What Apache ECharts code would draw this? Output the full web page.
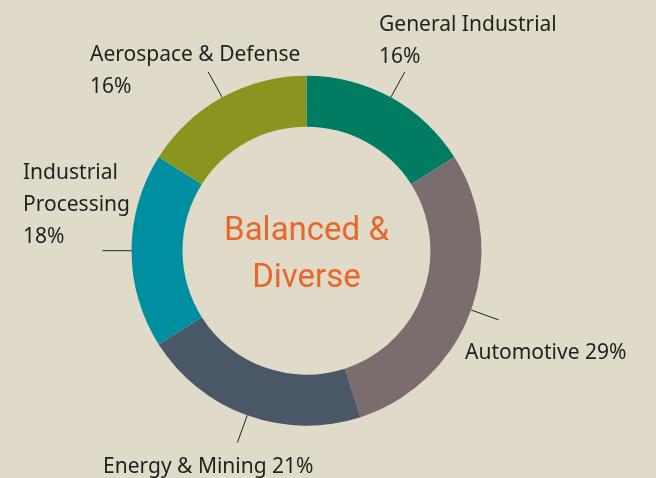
<!DOCTYPE html>
<html>
<head>
<meta charset="utf-8">
<script src="https://cdn.jsdelivr.net/npm/echarts@6/dist/echarts.min.js"></script>
<style>
html,body{margin:0;padding:0;background:#e0dbc9;}
#chart{width:656px;height:478px;}
</style>
</head>
<body>
<div id="chart"></div>
<script>
const categories = ['General Industrial', 'Automotive', 'Energy & Mining', 'Industrial Processing', 'Aerospace & Defense'];
const values = [16, 29, 21, 18, 16];
const labelTexts = ['General Industrial\n16%', 'Automotive 29%', 'Energy & Mining 21%', 'Industrial\nProcessing\n18%', 'Aerospace & Defense\n16%'];
const colors = ['#007c63', '#7a6d6d', '#495766', '#008fa0', '#8a9520'];
const centerText = 'Balanced &\nDiverse';

// label placement (left x, top y) for each slice label
const labelPos = [[379, 9], [465, 337], [103, 451], [23, 157], [90, 39]];

const CENTER = [306.5, 250.7];
const RADIUS = [124, 175];

const chart = echarts.init(document.getElementById('chart'), null, {renderer: 'canvas'});

const data = categories.map((c, i) => ({
  name: c, value: values[i], itemStyle: {color: colors[i]}
}));

chart.setOption({
  backgroundColor: '#e0dbc9',
  animation: false,
  title: {
    text: centerText,
    left: CENTER[0],
    top: 208,
    textAlign: 'center',
    padding: 0,
    textStyle: {
      fontFamily: 'Roboto',
      fontWeight: 'normal',
      fontSize: 33,
      lineHeight: 47,
      color: '#e8672a'
    }
  },
  series: [
    {
      type: 'pie',
      center: CENTER,
      radius: RADIUS,
      startAngle: 90,
      clockwise: true,
      avoidLabelOverlap: false,
      silent: true,
      data: data,
      label: {show: true, position: 'outside', formatter: ' ', color: 'rgba(0,0,0,0)'},
      labelLine: {show: true, length: 29, length2: 0, smooth: false, lineStyle: {color: '#231f20', width: 1}}
    },
    {
      type: 'pie',
      center: CENTER,
      radius: RADIUS,
      startAngle: 90,
      clockwise: true,
      avoidLabelOverlap: false,
      silent: true,
      data: categories.map((c, i) => ({name: c, value: values[i]})),
      itemStyle: {color: 'rgba(0,0,0,0)'},
      label: {
        show: true,
        position: 'outside',
        formatter: p => labelTexts[p.dataIndex],
        fontFamily: 'Noto Sans',
        fontSize: 21,
        lineHeight: 32,
        color: '#231f20',
        align: 'left'
      },
      labelLine: {show: false},
      labelLayout: function (p) {
        const pos = labelPos[p.dataIndex];
        return {x: pos[0], y: pos[1], align: 'left', verticalAlign: 'top'};
      }
    }
  ]
});
</script>
</body>
</html>
